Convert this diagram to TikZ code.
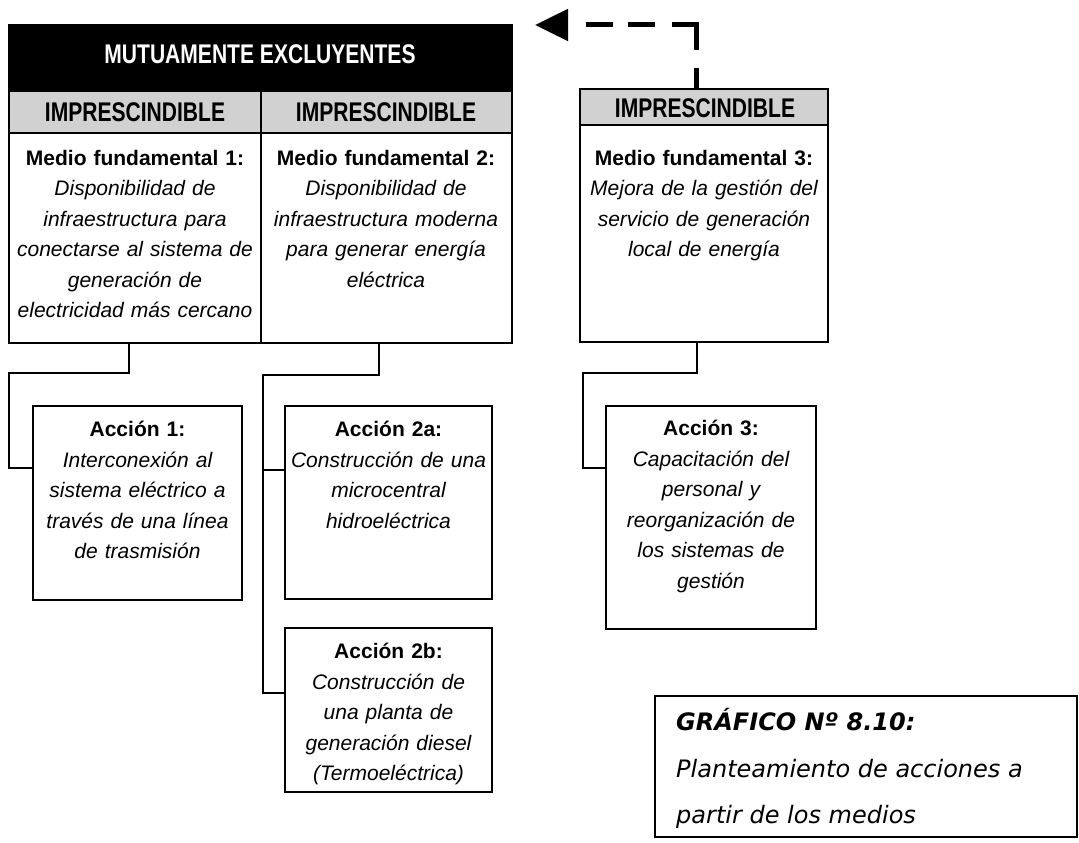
\documentclass[tikz,border=0pt]{standalone}
\usepackage{fontspec}
\setmainfont{Liberation Sans}
\newfontfamily\condbold[FakeStretch=0.78]{Liberation Sans Bold}
\newfontfamily\capfont{DejaVu Sans}
\usetikzlibrary{arrows.meta}
\begin{document}
\begin{tikzpicture}[x=1pt,y=-1pt]
\tikzset{
  frame/.style={draw=black, line width=1.6pt, inner sep=0pt, outer sep=0pt, anchor=north west},
  hdrbox/.style={frame, fill=black},
  impbox/.style={frame, fill=black!18},
  plainbox/.style={frame, fill=white},
  hdrtext/.style={text=white, font=\condbold\fontsize{27}{30}\selectfont, inner sep=0pt},
  imptext/.style={text=black, font=\condbold\fontsize{27}{30}\selectfont, inner sep=0pt},
  bodytext/.style={anchor=north, align=center, text width=240pt, inner sep=0pt, font=\fontsize{21}{30.5}\selectfont},
  conn/.style={draw=black, line width=1.5pt},
  dasharrow/.style={draw=black, line width=5pt,
    dash pattern=on 21pt off 18pt on 49pt off 17pt on 27pt off 15pt on 27pt off 20pt,
    -{Triangle[length=33pt,width=31pt]}},
  captext/.style={anchor=base west, inner sep=0pt, font=\capfont\fontsize{24}{30}\selectfont},
}
\useasboundingbox (0,0) rectangle (1079,843);
\fill[white] (0,0) rectangle (1079,843);

% ---- left group
\node[hdrbox, minimum width=503, minimum height=66] (hdr) at (9,25) {};
\node[hdrtext] (hdrt) at (260,54) {MUTUAMENTE EXCLUYENTES};
\node[impbox, minimum width=252, minimum height=42] (i1) at (9,91) {};
\node[impbox, minimum width=251, minimum height=42] (i2) at (261,91) {};
\node[imptext] (i1t) at (135,112) {IMPRESCINDIBLE};
\node[imptext] (i2t) at (386,112) {IMPRESCINDIBLE};
\node[plainbox, minimum width=252, minimum height=210] (m1) at (9,133) {};
\node[plainbox, minimum width=251, minimum height=210] (m2) at (261,133) {};
\node[bodytext] (m1t) at (135,150) {{\bfseries Medio fundamental 1:}\\\itshape Disponibilidad de\\infraestructura para\\conectarse al sistema de\\generación de\\electricidad más cercano};
\node[bodytext] (m2t) at (386,150) {{\bfseries Medio fundamental 2:}\\\itshape Disponibilidad de\\infraestructura moderna\\para generar energía\\eléctrica};

% ---- right group
\node[impbox, minimum width=248, minimum height=36] (i3) at (580,89) {};
\node[imptext] (i3t) at (705,108) {IMPRESCINDIBLE};
\node[plainbox, minimum width=248, minimum height=217] (m3) at (580,125) {};
\node[bodytext] (m3t) at (704,150) {{\bfseries Medio fundamental 3:}\\\itshape Mejora de la gestión del\\servicio de generación\\local de energía};

% ---- actions
\node[plainbox, minimum width=209, minimum height=194] (a1) at (33,406) {};
\node[bodytext, text width=205pt] (a1t) at (137.5,421) {{\bfseries Acción 1:}\\\itshape Interconexión al\\sistema eléctrico a\\través de una línea\\de trasmisión};
\node[plainbox, minimum width=207, minimum height=193] (a2a) at (285,406) {};
\node[bodytext, text width=203pt] (a2at) at (388.5,421) {{\bfseries Acción 2a:}\\\itshape Construcción de una\\microcentral\\hidroeléctrica};
\node[plainbox, minimum width=207, minimum height=164] (a2b) at (285,628) {};
\node[bodytext, text width=203pt] (a2bt) at (388.5,643) {{\bfseries Acción 2b:}\\\itshape Construcción de\\una planta de\\generación diesel\\(Termoeléctrica)};
\node[plainbox, minimum width=210, minimum height=223] (a3) at (606,406) {};
\node[bodytext, text width=206pt] (a3t) at (711,420) {{\bfseries Acción 3:}\\\itshape Capacitación del\\personal y\\reorganización de\\los sistemas de\\gestión};

% ---- connectors
\coordinate (c1) at (129,373);
\coordinate (k1) at (9,373);
\coordinate (k1b) at (9,468);
\draw[conn] (m1.south -| c1) -- (c1) -- (k1) -- (k1b) -- (k1b -| a1.west);

\coordinate (c2) at (379,375);
\coordinate (k2) at (263,375);
\coordinate (k2a) at (263,470);
\coordinate (k2b) at (263,693);
\draw[conn] (m2.south -| c2) -- (c2) -- (k2) -- (k2b) -- (k2b -| a2b.west);
\draw[conn] (k2a) -- (k2a -| a2a.west);

\coordinate (c3) at (697,373);
\coordinate (k3) at (583,373);
\coordinate (k3b) at (583,468);
\draw[conn] (m3.south -| c3) -- (c3) -- (k3) -- (k3b) -- (k3b -| a3.west);

% ---- dashed arrow
\coordinate (dc) at (696,25);
\coordinate (dtip) at (535,25);
\draw[dasharrow] (i3.north -| dc) -- (dc) -- (dtip);

% ---- caption
\node[frame, fill=white, minimum width=422, minimum height=141] (cap) at (655,696) {};
\node[captext] (cap1) at (676,730) {\bfseries\itshape GRÁFICO Nº 8.10:};
\node[captext] (cap2) at (676,777) {\itshape Planteamiento de acciones a};
\node[captext] (cap3) at (676,823) {\itshape partir de los medios};
\end{tikzpicture}
\end{document}
